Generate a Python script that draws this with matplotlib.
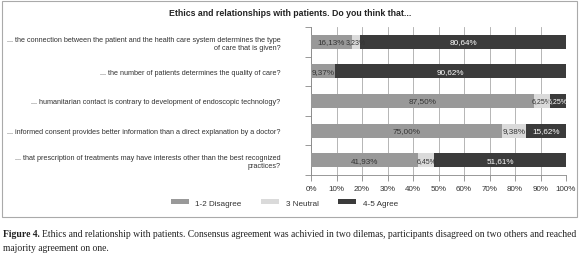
import matplotlib.pyplot as plt
import matplotlib.patches as mpatches
import numpy as np

plt.rcParams['font.family'] = ['Liberation Sans', 'DejaVu Sans']

# --- DATA ---
questions = [
    "... the connection between the patient and the health care system determines the type\nof care that is given?",
    "... the number of patients determines the quality of care?",
    "... humanitarian contact is contrary to development of endoscopic technology?",
    "... informed consent provides better information than a direct explanation by a doctor?",
    "... that prescription of treatments may have interests other than the best recognized\npractices?",
]
disagree = [16.13, 9.37, 87.50, 75.00, 41.93]
neutral = [3.23, 0.0, 6.25, 9.38, 6.45]
agree = [80.64, 90.62, 6.25, 15.62, 51.61]
series_names = ["1-2 Disagree", "3 Neutral", "4-5 Agree"]
xticks = [0, 10, 20, 30, 40, 50, 60, 70, 80, 90, 100]

colors = ['#999999', '#dadada', '#3b3b3b']
label_colors = ['#333333', '#333333', 'white']

fig = plt.figure(figsize=(5.8, 2.55), dpi=100)

# outer frame of the chart
fig.patches.append(mpatches.Rectangle((2 / 580, 1 - 218 / 255), 575 / 580, 216 / 255,
                                      transform=fig.transFigure, fill=False,
                                      edgecolor='#aaaaaa', linewidth=0.8))

ax = fig.add_axes([311 / 580, 1 - 176 / 255, 255 / 580, 148 / 255])

y = np.arange(len(questions))
left = np.zeros(len(questions))
for vals, name, c, lc in zip([disagree, neutral, agree], series_names, colors, label_colors):
    vals = np.array(vals)
    bars = ax.barh(y, vals, left=left, height=0.47, color=c, label=name, zorder=3)
    for b, v in zip(bars, vals):
        if v > 0:
            # small segments get a smaller label so neighbours stay readable
            fs = 5.9 if v > 8 else 5.0
            ax.text(b.get_x() + b.get_width() / 2, b.get_y() + b.get_height() / 2,
                    f"{v:.2f}%".replace('.', ','), ha='center', va='center',
                    fontsize=fs, color=lc, zorder=4)
    left += vals

ax.set_xlim(0, 100)
ax.set_ylim(len(questions) - 0.5, -0.5)
ax.set_xticks(xticks)
ax.set_xticklabels([f"{t}%" for t in xticks], fontsize=5.8, color='#333333')
ax.set_yticks(y)
ax.set_yticklabels(questions, fontsize=5.2, color='#333333', ha='right', multialignment='right')
ax.set_yticks(np.arange(-0.5, len(questions)), minor=True)
ax.tick_params(axis='y', which='major', length=0, pad=22)
ax.tick_params(axis='y', which='minor', length=4, color='#888888', width=0.6)
ax.tick_params(axis='x', length=4, color='#888888', width=0.6, pad=3)
ax.grid(axis='x', color='#aaaaaa', linewidth=0.6, zorder=0)
for s in ['top', 'right']:
    ax.spines[s].set_visible(False)
for s in ['left', 'bottom']:
    ax.spines[s].set_color('#888888')
    ax.spines[s].set_linewidth(0.6)

fig.text(0.5, 1 - 14 / 255, "Ethics and relationships with patients. Do you think that...",
         ha='center', va='center', fontsize=6.3, fontweight='bold', color='#222222')

fig.legend(loc='center', bbox_to_anchor=(0.49, 1 - 204 / 255), ncol=3, frameon=False,
           fontsize=5.9, handlelength=2.2, handleheight=0.6, columnspacing=2.4,
           labelcolor='#333333')

# caption: bold lead-in followed by regular text
cap_font = ['Liberation Serif', 'DejaVu Serif']
cap_y = 1 - 235 / 255
lead = fig.text(3 / 580, cap_y, "Figure 4.", ha='left', va='center', fontsize=6.9,
                family=cap_font, fontweight='bold', color='#222222')
renderer = fig.canvas.get_renderer()
bb = lead.get_window_extent(renderer).transformed(fig.transFigure.inverted())
fig.text(bb.x1 + 2 / 580, cap_y,
         "Ethics and relationship with patients. Consensus agreement was achivied in two dilemas, participants disagreed on two others and reached",
         ha='left', va='center', fontsize=6.9, family=cap_font, color='#222222')
fig.text(3 / 580, 1 - 249 / 255, "majority agreement on one.",
         ha='left', va='center', fontsize=6.9, family=cap_font, color='#222222')

fig.savefig('out.png', dpi=100)
